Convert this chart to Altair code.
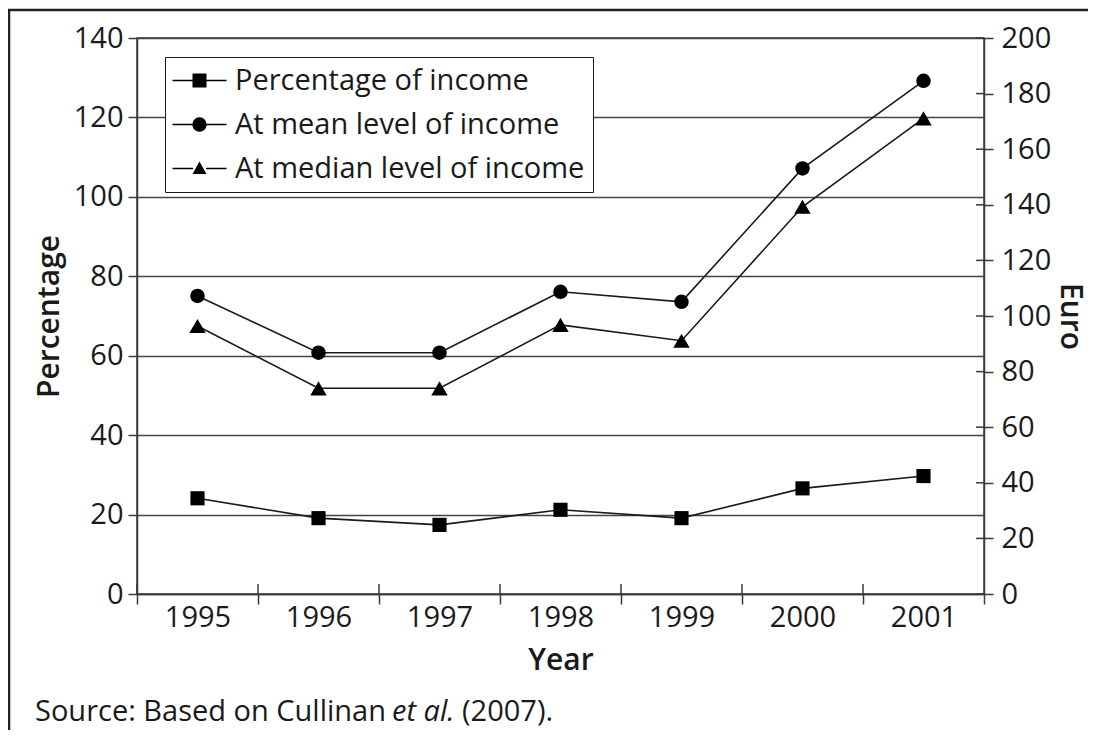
import altair as alt
import pandas as pd

# ---------------- data ----------------
years = ["1995", "1996", "1997", "1998", "1999", "2000", "2001"]
pct_income = [24.1, 19.1, 17.4, 21.2, 19.1, 26.6, 29.7]          # left axis (Percentage)
mean_euro = [107.2, 86.8, 86.8, 108.7, 105.1, 153.1, 184.6]      # right axis (Euro)
median_euro = [96.4, 74.0, 74.0, 96.8, 91.1, 139.3, 171.1]       # right axis (Euro)
series_names = ["Percentage of income", "At mean level of income", "At median level of income"]
pct_ticks = [0, 20, 40, 60, 80, 100, 120, 140]
euro_ticks = [0, 20, 40, 60, 80, 100, 120, 140, 160, 180, 200]
source_parts = ["Source: Based on Cullinan ", "et al.", " (2007)."]

FONT = "Open Sans"
INK = "#1a1a1a"
AX = "#3a3a3a"
W, H = 847, 556

pct_df = pd.DataFrame({"year": years, "value": pct_income, "series": series_names[0]})
mean_df = pd.DataFrame({"year": years, "value": mean_euro, "series": series_names[1]})
med_df = pd.DataFrame({"year": years, "value": median_euro, "series": series_names[2]})
legend_df = pd.DataFrame({"series": series_names})
eur_tick_df = pd.DataFrame({"tick": euro_ticks})
year_df = pd.DataFrame({"year": years})
one = pd.DataFrame({"k": [0]})

x_axis = alt.Axis(title="Year", tickBand="extent", labelAngle=0, tickSize=10,
                  labelPadding=-1, titlePadding=13, labelFontSize=29,
                  titleFontSize=30, titleFontWeight=600)
x_scale = alt.Scale(type="band", domain=years, paddingInner=0, paddingOuter=0)


def X(band=None):
    if band is None:
        return alt.X("year:O", scale=x_scale, axis=x_axis)
    return alt.X("year:O", scale=x_scale, axis=x_axis, bandPosition=band)


pct_axis = alt.Axis(title="Percentage", orient="left", values=pct_ticks, grid=True,
                    gridColor="#444444", gridWidth=1.4, tickSize=9, labelPadding=5,
                    titlePadding=9, labelFontSize=29, titleFontSize=30, titleFontWeight=600)
pct_scale = alt.Scale(domain=[0, 140], nice=False, zero=True)
eur_axis = alt.Axis(title="Euro", orient="right", values=euro_ticks, grid=False,
                    tickSize=9, labelPadding=8, titlePadding=4, labelFontSize=29,
                    titleFontSize=30, titleFontWeight=600)
eur_scale = alt.Scale(domain=[0, 200], nice=False, zero=True)

# ---------------- percentage (left axis) ----------------
pct_line = alt.Chart(pct_df).mark_line(color=INK, strokeWidth=1.6).encode(
    x=X(), y=alt.Y("value:Q", scale=pct_scale, axis=pct_axis))
pct_pts = alt.Chart(pct_df).mark_point(shape="square", filled=True, size=200,
                                       color="black", opacity=1).encode(
    x=X(), y=alt.Y("value:Q", scale=pct_scale, axis=pct_axis))
pct_layer = alt.layer(pct_line, pct_pts)

# ---------------- euro (right axis) ----------------
mean_line = alt.Chart(mean_df).mark_line(color=INK, strokeWidth=1.6).encode(
    x=X(), y=alt.Y("value:Q", scale=eur_scale, axis=eur_axis))
mean_pts = alt.Chart(mean_df).mark_point(shape="circle", filled=True, size=210,
                                         color="black", opacity=1).encode(
    x=X(), y=alt.Y("value:Q", scale=eur_scale, axis=eur_axis))
med_line = alt.Chart(med_df).mark_line(color=INK, strokeWidth=1.6).encode(
    x=X(), y=alt.Y("value:Q", scale=eur_scale, axis=eur_axis))
med_pts = alt.Chart(med_df).mark_point(shape="triangle-up", filled=True, size=270,
                                       color="black", opacity=1).encode(
    x=X(), y=alt.Y("value:Q", scale=eur_scale, axis=eur_axis))
eur_inner_ticks = alt.Chart(eur_tick_df).mark_rule(color=AX, strokeWidth=1.5).encode(
    y=alt.Y("tick:Q", scale=eur_scale, axis=eur_axis),
    x=alt.value(W - 8), x2=alt.value(W))
eur_layer = alt.layer(mean_line, mean_pts, med_line, med_pts, eur_inner_ticks)

# inward part of the crossing x-axis ticks
x_inner_ticks = alt.Chart(year_df).mark_rule(color=AX, strokeWidth=1.5).encode(
    x=X(0), y=alt.value(H - 10), y2=alt.value(H))

# ---------------- legend ----------------
LINE = "M-1.067,-0.05H0.3V0.05H-1.067ZM1.17,-0.05H2.533V0.05H1.17Z"
legend_paths = [
    LINE + "M0.267,-0.467H1.2V0.467H0.267Z",
    LINE + "M0.267,0A0.467,0.467 0 1,1 1.2,0A0.467,0.467 0 1,1 0.267,0Z",
    LINE + "M0.733,-0.47L1.2,0.37L0.267,0.37Z",
]
legend_layer = alt.Chart(legend_df).mark_point(
    filled=True, opacity=0, color="black", stroke="black", strokeWidth=0.5
).encode(
    shape=alt.Shape("series:N",
                    scale=alt.Scale(domain=series_names, range=legend_paths),
                    legend=alt.Legend(title=None, orient="none", legendX=28, legendY=19,
                                      symbolSize=900, symbolOpacity=1,
                                      symbolFillColor="black", symbolStrokeColor="black",
                                      symbolStrokeWidth=0.5, labelOffset=31,
                                      padding=8, rowPadding=13, strokeColor=INK,
                                      fillColor="white", labelFont=FONT,
                                      labelFontSize=29, labelColor=INK, labelLimit=0,
                                      cornerRadius=0)))

# ---------------- outer frame (left and top edges) and source note ----------------
frame_left = alt.Chart(one).mark_rule(color="#222222", strokeWidth=2.5).encode(
    x=alt.value(-128), y=alt.value(-28), y2=alt.value(760))
frame_top = alt.Chart(one).mark_rule(color="#222222", strokeWidth=2.5).encode(
    y=alt.value(-28), x=alt.value(-129), x2=alt.value(1000))

src_y = 683
src1 = alt.Chart(one).mark_text(align="left", baseline="alphabetic", font=FONT,
                                fontSize=29, color=INK).encode(
    x=alt.value(-102), y=alt.value(src_y), text=alt.value(source_parts[0]))
src2 = alt.Chart(one).mark_text(align="left", baseline="alphabetic", font=FONT,
                                fontSize=29, fontStyle="italic", color=INK).encode(
    x=alt.value(-102 + 357), y=alt.value(src_y), text=alt.value(source_parts[1]))
src3 = alt.Chart(one).mark_text(align="left", baseline="alphabetic", font=FONT,
                                fontSize=29, color=INK).encode(
    x=alt.value(-102 + 357 + 70), y=alt.value(src_y), text=alt.value(source_parts[2]))

chart = alt.layer(
    frame_left, frame_top, pct_layer, eur_layer, x_inner_ticks, legend_layer,
    src1, src2, src3
).resolve_scale(y="independent").properties(
    width=W, height=H,
    padding={"left": 129, "top": 30, "right": 104, "bottom": 136},
    autosize=alt.AutoSizeParams(type="none"),
    background="white",
).configure_view(
    stroke=AX, strokeWidth=1.5
).configure_axis(
    labelFont=FONT, titleFont=FONT, labelColor=INK, titleColor=INK,
    domainColor=AX, domainWidth=1.5, tickColor=AX, tickWidth=1.5,
)

chart.save("out.html", embed_options={"renderer": "svg", "actions": False})
